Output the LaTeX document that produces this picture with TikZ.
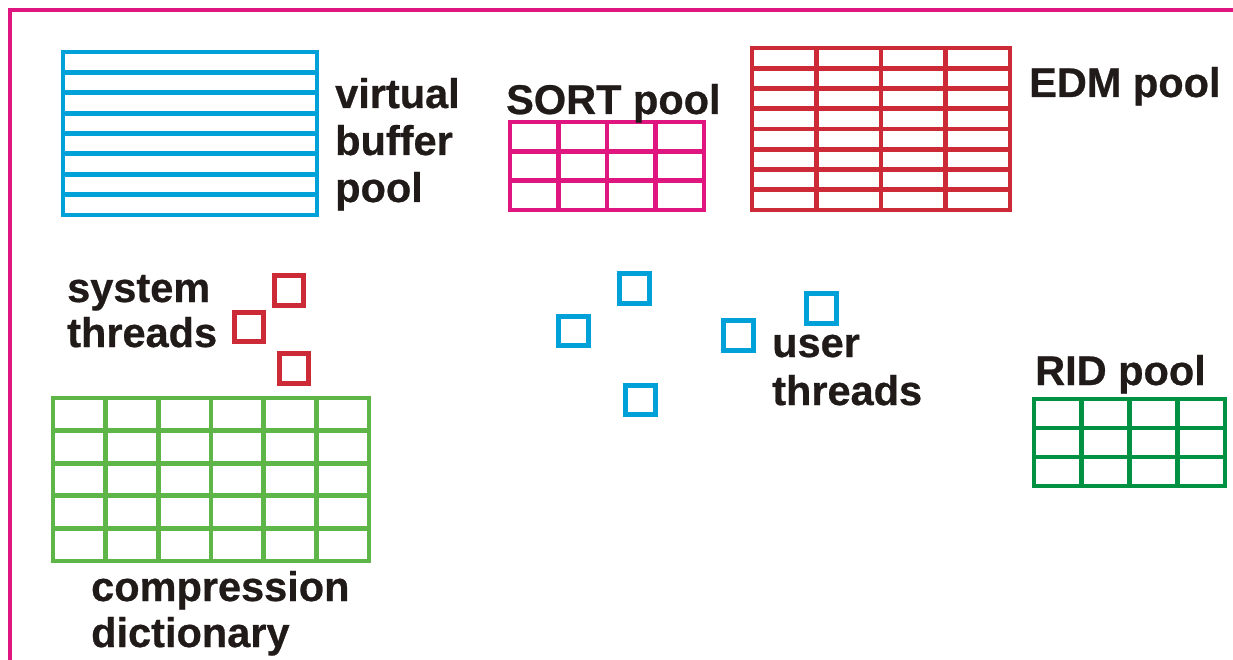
\documentclass[tikz,border=0pt]{standalone}
\usepackage{fontspec}
\setmainfont{Liberation Sans}
\newfontfamily\lblfont[FakeBold=0.6]{Liberation Sans Bold}
\definecolor{framepink}{RGB}{224,22,128}
\definecolor{vbpblue}{RGB}{0,160,216}
\definecolor{sortpink}{RGB}{224,22,128}
\definecolor{edmred}{RGB}{204,42,54}
\definecolor{compgreen}{RGB}{94,182,72}
\definecolor{ridgreen}{RGB}{0,146,66}
\definecolor{txt}{RGB}{32,26,24}
\newcommand{\poolgrid}[7]{%
  \draw[gridline,#7] (#1,#2) rectangle (#3,#4);
  \foreach \i in {1,...,#5} {\draw[gridline,#7] ({#1+\i*(#3-#1)/#5},#2) -- ({#1+\i*(#3-#1)/#5},#4);}
  \foreach \j in {1,...,#6} {\draw[gridline,#7] (#1,{#2+\j*(#4-#2)/#6}) -- (#3,{#2+\j*(#4-#2)/#6});}
}
\tikzset{
  gridline/.style={line width=4.8pt},
  lbl/.style={anchor=base west, inner sep=0pt, text=txt, font=\fontsize{41.5}{47}\lblfont},
  thread/.style={draw, line width=5pt, minimum size=29.5pt, inner sep=0pt, fill=none},
  systhread/.style={thread, draw=edmred},
  usrthread/.style={thread, draw=vbpblue},
}
\begin{document}
\begin{tikzpicture}[x=1pt,y=-1pt]
\useasboundingbox (0,0) rectangle (1233,660);
\clip (0,0) rectangle (1233,660);
% outer frame
\draw[line width=4pt, framepink] (10,10) rectangle (1250,662);
% virtual buffer pool
\poolgrid{63}{52}{317}{215}{1}{8}{vbpblue}
\node[lbl] (vbp1) at (335,108) {virtual};
\node[lbl] (vbp2) at (335,155) {buffer};
\node[lbl] (vbp3) at (335,202) {pool};
% SORT pool
\poolgrid{510}{122}{704}{210}{4}{3}{sortpink}
\node[lbl] (sort) at (506,114) {SORT pool};
% EDM pool
\poolgrid{752}{48}{1010}{210}{4}{8}{edmred}
\node[lbl] (edm) at (1029,97) {EDM pool};
% system threads
\node[lbl] (sys1) at (67,302) {system};
\node[lbl] (sys2) at (67,347) {threads};
\node[systhread] (st1) at (289,290.5) {};
\node[systhread] (st2) at (249,327) {};
\node[systhread] (st3) at (294,368.5) {};
% compression dictionary
\poolgrid{53}{398}{369}{561}{6}{5}{compgreen}
\node[lbl] (cd1) at (91,601) {compression};
\node[lbl] (cd2) at (91,647) {dictionary};
% user threads
\node[usrthread] (ut1) at (634.5,288.5) {};
\node[usrthread] (ut2) at (573.5,331) {};
\node[usrthread] (ut3) at (738.5,335.5) {};
\node[usrthread] (ut4) at (821.5,308.5) {};
\node[usrthread] (ut5) at (640.5,400) {};
\node[lbl] (ut6) at (772,357) {user};
\node[lbl] (ut7) at (772,405) {threads};
% RID pool
\poolgrid{1034}{399}{1225}{486}{4}{3}{ridgreen}
\node[lbl] (rid) at (1035,385) {RID pool};
\end{tikzpicture}
\end{document}
